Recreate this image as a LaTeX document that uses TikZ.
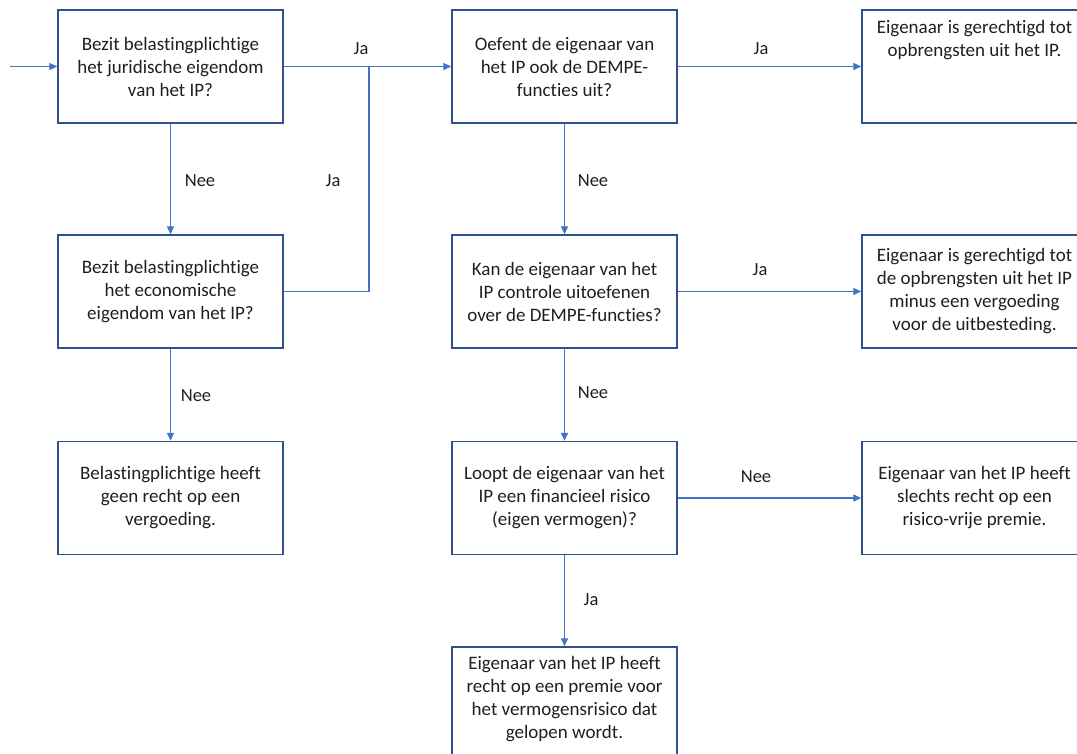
\documentclass[tikz,border=0pt]{standalone}
\usepackage{fontspec}
\setmainfont{Carlito}[Ligatures={NoCommon,NoContextual,NoRequired},Contextuals=NoAlternate]
\usetikzlibrary{arrows.meta}
\definecolor{boxblue}{HTML}{2F528F}
\definecolor{lineblue}{HTML}{4472C4}
\definecolor{txt}{HTML}{1F1F1F}
\begin{document}
\begin{tikzpicture}[x=1pt,y=-1pt,
  box/.style={draw=boxblue, line width=1.4pt, minimum width=225pt, minimum height=113pt, inner sep=2pt, align=center, font=\fontsize{19}{23}\selectfont, text=txt},
  boxtext/.style={align=center, font=\fontsize{19}{23}\selectfont, text=txt, inner sep=0pt},
  conn/.style={draw=lineblue, line width=1.3pt, -{Triangle[length=8pt,width=7pt]}},
  seg/.style={draw=lineblue, line width=1.3pt},
  lbl/.style={font=\fontsize{18.5}{20}\selectfont, text=txt}]
\useasboundingbox (0,0) rectangle (1077,753);
\clip (0,0) rectangle (1077,753);
% boxes
\node[box] (a) at (170.5,66.5) {Bezit belastingplichtige\\het juridische eigendom\\van het IP?};
\node[box] (b) at (564.5,66.5) {Oefent de eigenaar van\\het IP ook de DEMPE-\\functies uit?};
\node[box, label={[boxtext,anchor=north,yshift=-11pt]north:{Eigenaar is gerechtigd tot\\opbrengsten uit het IP.}}] (c) at (974.5,66.5) {};
\node[box] (d) at (170.5,291.5) {Bezit belastingplichtige\\het economische\\eigendom van het IP?};
\node[box] (e) at (564.5,291.5) {Kan de eigenaar van het\\IP controle uitoefenen\\over de DEMPE-functies?};
\node[box] (f) at (974.5,291.5) {Eigenaar is gerechtigd tot\\de opbrengsten uit het IP\\minus een vergoeding\\voor de uitbesteding.};
\node[box] (g) at (170.5,498) {Belastingplichtige heeft\\geen recht op een\\vergoeding.};
\node[box] (h) at (564.5,498) {Loopt de eigenaar van het\\IP een financieel risico\\(eigen vermogen)?};
\node[box] (i) at (974.5,498) {Eigenaar van het IP heeft\\slechts recht op een\\risico-vrije premie.};
\node[box, label={[boxtext,anchor=north,yshift=-10pt]north:{Eigenaar van het IP heeft\\recht op een premie voor\\het vermogensrisico dat\\gelopen wordt.}}] (j) at (564.5,703.5) {};
% connectors
\coordinate (in) at (10,66.5);
\coordinate (junc) at (369,66.5);
\draw[conn] (in) -- (a.west);
\draw[seg] (a.east) -- (junc);
\draw[conn] (junc) -- (b.west);
\draw[seg] (d.east) -| (junc);
\draw[conn] (a.south) -- (d.north);
\draw[conn] (d.south) -- (g.north);
\draw[conn] (b.east) -- (c.west);
\draw[conn] (b.south) -- (e.north);
\draw[conn] (e.east) -- (f.west);
\draw[conn] (e.south) -- (h.north);
\draw[conn] (h.east) -- (i.west);
\draw[conn] (h.south) -- (j.north);
% labels
\node[lbl] (l1) at (361,49) {Ja};
\node[lbl] (l2) at (333,181) {Ja};
\node[lbl] (l3) at (200,181) {Nee};
\node[lbl] (l4) at (196,396) {Nee};
\node[lbl] (l5) at (761,49) {Ja};
\node[lbl] (l6) at (593,181) {Nee};
\node[lbl] (l7) at (760,270) {Ja};
\node[lbl] (l8) at (593,393) {Nee};
\node[lbl] (l9) at (756,477) {Nee};
\node[lbl] (l10) at (591,600) {Ja};
\end{tikzpicture}
\end{document}
